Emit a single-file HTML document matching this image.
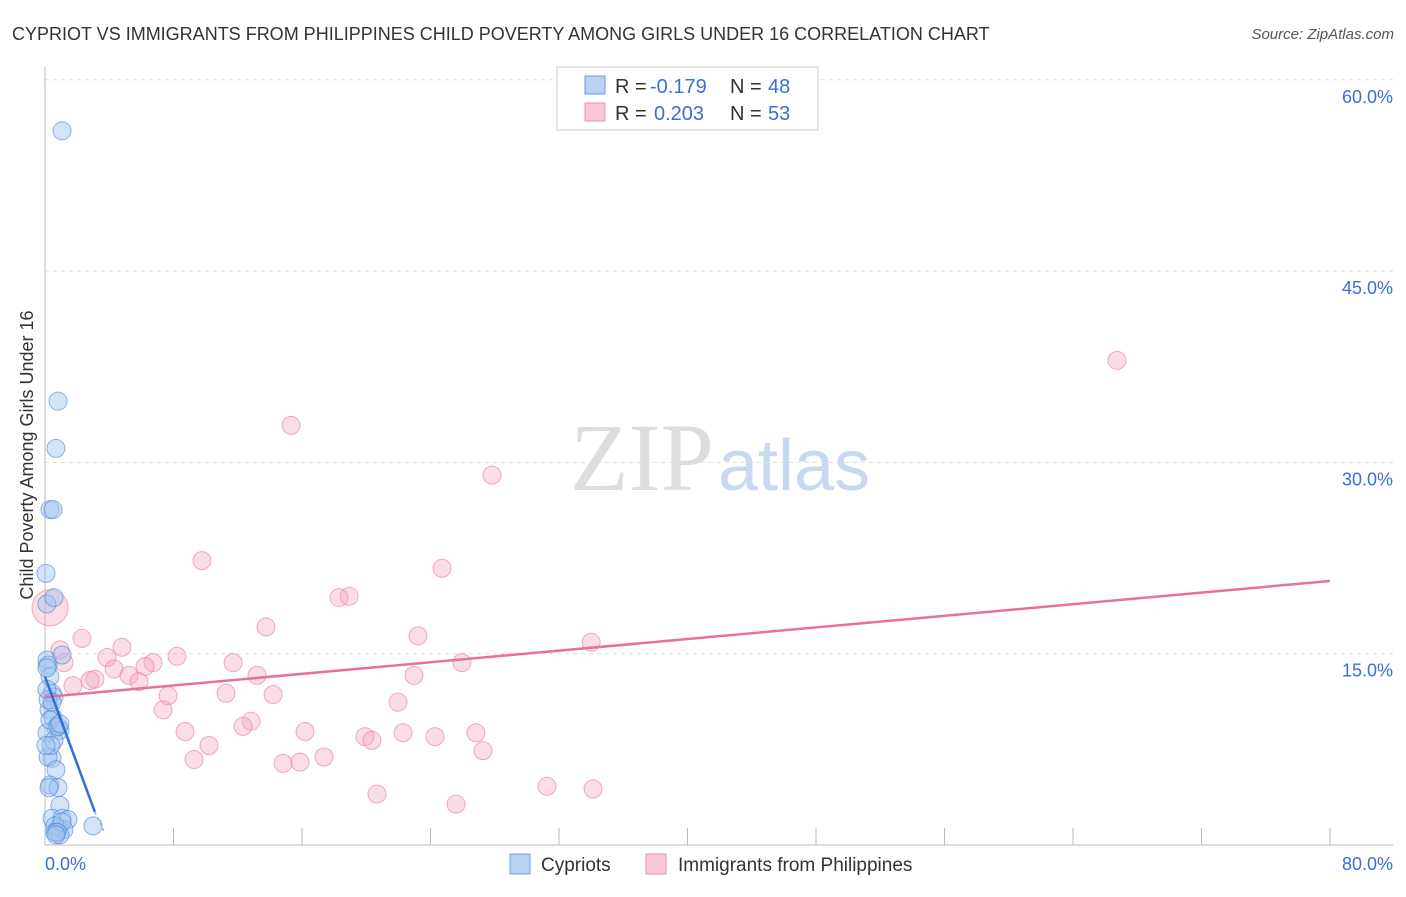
<!DOCTYPE html>
<html><head><meta charset="utf-8"><style>
body{margin:0;background:#fff;font-family:"Liberation Sans",sans-serif}
</style></head><body>
<svg id="c" width="1406" height="892" xmlns="http://www.w3.org/2000/svg">
<text x="12" y="40" font-size="18" fill="#333">CYPRIOT VS IMMIGRANTS FROM PHILIPPINES CHILD POVERTY AMONG GIRLS UNDER 16 CORRELATION CHART</text>
<text x="1394" y="39" font-size="15" fill="#555" font-style="italic" text-anchor="end">Source: ZipAtlas.com</text>
<text x="714" y="490" font-size="96" font-family="Liberation Serif,serif" fill="#ddd" text-anchor="end">ZIP</text>
<text x="718" y="490" font-size="72" fill="#c8d8f0">atlas</text>
<text transform="translate(33,455) rotate(-90)" font-size="18" fill="#333" text-anchor="middle">Child Poverty Among Girls Under 16</text>
<g id="grid"></g><g id="marks"></g>
<g>
<rect x="557" y="67" width="261" height="63" fill="#fff" stroke="#ccc"/>
<rect x="585" y="76" width="20" height="18" fill="#b8d2f4" stroke="#6a9be0"/>
<rect x="585" y="103" width="20" height="18" fill="#f9c8d6" stroke="#e891ac"/>
<text x="615" y="93" font-size="20" fill="#333">R =</text>
<text x="650" y="93" font-size="20" fill="#3a6fd8">-0.179</text>
<text x="730" y="93" font-size="20" fill="#333">N =</text>
<text x="768" y="93" font-size="20" fill="#3a6fd8">48</text>
<text x="615" y="120" font-size="20" fill="#333">R =</text>
<text x="654" y="120" font-size="20" fill="#3a6fd8">0.203</text>
<text x="730" y="120" font-size="20" fill="#333">N =</text>
<text x="768" y="120" font-size="20" fill="#3a6fd8">53</text>
</g>
<g>
<rect x="510" y="854" width="20" height="20" fill="#b8d2f4" stroke="#6a9be0"/>
<text x="541" y="871" font-size="19" fill="#333">Cypriots</text>
<rect x="646" y="854" width="20" height="20" fill="#f9c8d6" stroke="#e891ac"/>
<text x="678" y="871" font-size="19" fill="#333">Immigrants from Philippines</text>
</g>
</svg>
<script>
const yTicks=[15,30,45,60];
const yTickLabels=["15.0%","30.0%","45.0%","60.0%"];
const xTickLabels=["0.0%","80.0%"];
const blueX=[1.06,0.81,0.68,0.31,0.50,0.06,0.12,0.56,0.12,0.19,1.06,0.31,0.44,0.56,0.25,0.50,0.68,0.12,0.93,0.44,0.19,0.68,0.31,0.81,0.93,0.44,1.06,1.43,0.81,1.18,0.93,0.62,2.99,0.19,0.31,0.56,0.12,0.37,0.81,0.06,0.25,0.62,1.06,0.75,0.12,0.44,0.93,0.68];
const blueY=[56.0,34.8,31.1,26.3,26.3,21.3,18.9,19.4,14.5,14.1,14.9,13.2,11.9,11.6,10.6,10.0,9.2,8.8,9.0,6.8,6.9,5.9,4.7,4.5,3.1,2.1,2.1,2.0,1.3,1.2,0.8,1.5,1.5,11.4,9.8,8.2,12.2,7.8,9.3,7.8,4.5,1.0,1.8,1.0,13.9,11.2,9.5,0.8];
const pinkX=[66.74,15.32,27.83,9.77,24.72,18.30,18.93,13.76,23.22,34.0,2.30,4.79,3.86,0.93,1.18,6.72,8.22,6.23,11.71,4.30,13.20,5.23,3.11,2.80,5.85,1.74,7.66,11.27,14.20,22.97,25.96,21.98,7.35,12.83,12.33,8.72,16.19,26.83,19.92,22.29,24.28,20.36,10.21,27.27,17.37,9.28,14.82,15.88,20.67,25.59,31.25,34.12,0.31];
const pinkY=[38.0,32.9,29.0,22.3,21.7,19.4,19.5,17.1,16.4,15.9,16.2,15.5,14.7,15.3,14.3,14.3,14.8,14.0,14.3,13.8,13.3,13.3,13.0,12.9,12.8,12.5,11.7,11.9,11.8,13.3,14.3,11.2,10.6,9.7,9.3,8.9,8.9,8.8,8.5,8.8,8.5,8.2,7.8,7.4,6.9,6.7,6.4,6.5,4.0,3.2,4.6,4.4,18.6];
const blueTrend=[[0,13.2],[3.1,2.6]];
const blueTrendExt=[[3.1,2.6],[3.7,1.0]];
const pinkTrend=[[0,11.6],[80,20.7]];
const NS="http://www.w3.org/2000/svg";
const sx=v=>45+v/80*1285, sy=v=>845-v/15*191.3;
function mk(t,a,p){const e=document.createElementNS(NS,t);for(const k in a)e.setAttribute(k,a[k]);p.appendChild(e);return e;}
const g=document.getElementById('grid'), m=document.getElementById('marks');
yTicks.forEach((t,i)=>{
 const l=mk('line',{x1:45,x2:1393,y1:sy(t),y2:sy(t),stroke:'#ddd','stroke-dasharray':'4,4'},g);
 
 
 const tx=mk('text',{x:1393,y:sy(t)+23,'font-size':18,fill:'#3a6fd8','text-anchor':'end'},g);tx.textContent=yTickLabels[i];
 
 
});
const ax=mk('line',{x1:45,x2:45,y1:67,y2:845,stroke:'#bbb'},g);


const bx=mk('line',{x1:45,x2:1393,y1:845,y2:845,stroke:'#bbb'},g);


for(let i=0;i<=10;i++){const t=mk('line',{x1:sx(i*8),x2:sx(i*8),y1:828,y2:845,stroke:'#bbb'},g);
 
 }
[[0,'start',45],[80,'end',1393]].forEach((a,i)=>{const t=mk('text',{x:a[2],y:870,'font-size':18,fill:'#3a6fd8','text-anchor':a[1]},g);t.textContent=xTickLabels[i];
 
 });
pinkX.forEach((x,i)=>{const big=i===pinkX.length-1;
 const c=mk('circle',{cx:sx(x),cy:sy(pinkY[i]),r:big?18:9,fill:'rgba(246,170,192,0.4)',stroke:'rgba(230,120,155,0.6)','stroke-width':1},m);
 
 });
blueX.forEach((x,i)=>{
 const c=mk('circle',{cx:sx(x),cy:sy(blueY[i]),r:9,fill:'rgba(160,195,240,0.45)',stroke:'rgba(70,130,215,0.6)','stroke-width':1},m);
 
 });
const pl=mk('line',{x1:sx(pinkTrend[0][0]),y1:sy(pinkTrend[0][1]),x2:sx(pinkTrend[1][0]),y2:sy(pinkTrend[1][1]),stroke:'#e8709a','stroke-width':2.5},m);


const bl=mk('line',{x1:sx(blueTrend[0][0]),y1:sy(blueTrend[0][1]),x2:sx(blueTrend[1][0]),y2:sy(blueTrend[1][1]),stroke:'#2f6fd6','stroke-width':2.5},m);


const be=mk('line',{x1:sx(blueTrendExt[0][0]),y1:sy(blueTrendExt[0][1]),x2:sx(blueTrendExt[1][0]),y2:sy(blueTrendExt[1][1]),stroke:'#8fb0e0','stroke-width':1.5,'stroke-dasharray':'3,3'},m);


</script>
</body></html>
